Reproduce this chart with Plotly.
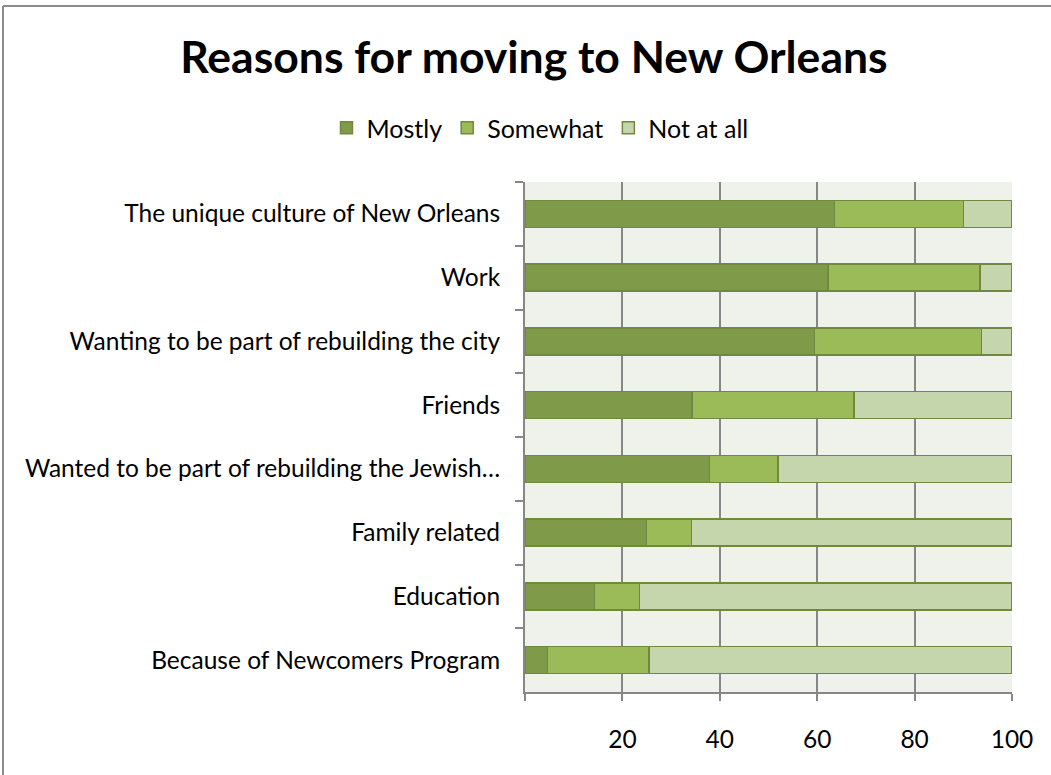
import plotly.graph_objects as go

# Survey reasons, listed top to bottom
reasons = [
    "The unique culture of New Orleans",
    "Work",
    "Wanting to be part of rebuilding the city",
    "Friends",
    "Wanted to be part of rebuilding the Jewish\u2026",
    "Family related",
    "Education",
    "Because of Newcomers Program",
]
mostly = [63.5, 62.2, 59.4, 34.3, 37.9, 24.9, 14.3, 4.6]
somewhat = [26.5, 31.2, 34.3, 33.3, 14.1, 9.3, 9.2, 20.9]
not_at_all = [10.0, 6.6, 6.3, 32.4, 48.0, 65.8, 76.5, 74.5]

x_ticks = [0, 20, 40, 60, 80, 100]
x_tick_text = ["", "20", "40", "60", "80", "100"]

FONT = "Lato, Calibri, Carlito, sans-serif"
EDGE = "#71893F"
LABEL_SIZE = 24.5

series = [
    ("Mostly", mostly, "#7F9A48"),
    ("Somewhat", somewhat, "#9BBB59"),
    ("Not at all", not_at_all, "#C6D6AC"),
]

fig = go.Figure()
for name, vals, color in series:
    fig.add_trace(go.Bar(
        y=reasons, x=vals, name=name, orientation="h",
        marker=dict(color=color, line=dict(color=EDGE, width=1.5)),
    ))

W, H = 1051, 775
L, R, T, B = 525, 39, 182, 83
pw, ph = W - L - R, H - T - B

def px_x(p):
    return (p - L) / pw

def px_y(p):
    return (H - B - p) / ph

fig.update_layout(
    width=W, height=H,
    margin=dict(l=L, r=R, t=T, b=B, autoexpand=False),
    barmode="stack",
    bargap=0.58,
    paper_bgcolor="white",
    plot_bgcolor="#EFF2EA",
    font=dict(family=FONT, color="black", size=LABEL_SIZE),
    title=dict(
        text="<b>Reasons for moving to New Orleans</b>",
        x=0.508, xanchor="center", y=1 - 57 / H, yanchor="middle",
        font=dict(family=FONT, size=44.5, color="black"),
    ),
    legend=dict(
        orientation="h", x=px_x(540), xanchor="center",
        y=px_y(128), yanchor="middle",
        font=dict(family=FONT, size=25),
        traceorder="normal", itemwidth=30,
        bgcolor="rgba(0,0,0,0)",
    ),
    xaxis=dict(
        range=[0, 100], tickvals=x_ticks, ticktext=x_tick_text,
        showgrid=True, gridcolor="#878787", gridwidth=2,
        showline=True, linecolor="#878787", linewidth=2,
        ticks="outside", ticklen=7, tickcolor="#878787", tickwidth=1.5,
        ticklabelstandoff=18, zeroline=False,
        tickfont=dict(family=FONT, size=LABEL_SIZE),
    ),
    yaxis=dict(
        autorange="reversed",
        showline=True, linecolor="#878787", linewidth=2,
        ticks="outside", ticklen=8, tickcolor="#878787", tickwidth=1.5,
        tickson="boundaries", showgrid=False,
        ticklabelstandoff=18,
        tickfont=dict(family=FONT, size=LABEL_SIZE),
    ),
    shapes=[
        dict(type="line", xref="paper", yref="paper",
             x0=px_x(3), x1=px_x(1060), y0=px_y(6), y1=px_y(6),
             line=dict(color="#8C8C8C", width=2)),
        dict(type="line", xref="paper", yref="paper",
             x0=px_x(3), x1=px_x(3), y0=px_y(6), y1=px_y(790),
             line=dict(color="#8C8C8C", width=2)),
    ],
)

fig.write_html("out.html")
